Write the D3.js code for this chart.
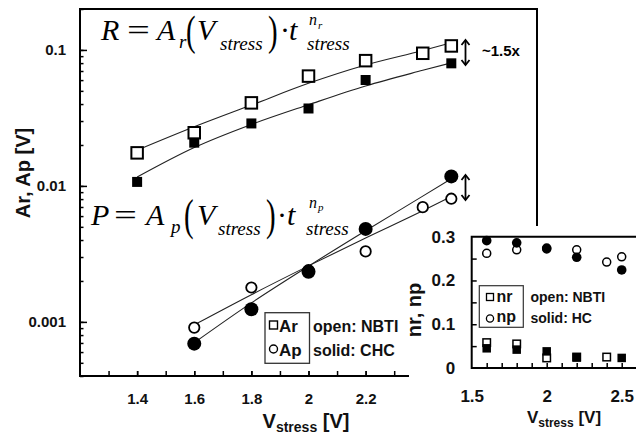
<!DOCTYPE html>
<html><head><meta charset="utf-8">
<script src="https://cdn.jsdelivr.net/npm/d3@7"></script>
<style>
body{margin:0;background:#fff}
svg{display:block}
text{font-family:"Liberation Sans",Arial,sans-serif}
.serif{font-family:"Liberation Serif","Times New Roman",serif}
</style>
</head><body><svg id="c" width="636" height="435"></svg>
<script>
// ---------- data (main chart) ----------
const mainXTicks = [1.4, 1.6, 1.8, 2.0, 2.2];
const mainYMajor = [0.001, 0.01, 0.1];
const arNbtiV = [1.4, 1.6, 1.8, 2.0, 2.2, 2.4, 2.5];
const arNbti  = [0.0175, 0.0246, 0.0408, 0.0642, 0.0834, 0.0945, 0.107];
const arChcV  = [1.4, 1.6, 1.8, 2.0, 2.2, 2.5];
const arChc   = [0.0107, 0.0208, 0.0288, 0.0371, 0.0601, 0.0797];
const arNbtiFitV = [1.4, 1.6, 1.8, 2.0, 2.2, 2.4, 2.5];
const arNbtiFit  = [0.0183, 0.0272, 0.0393, 0.0568, 0.0775, 0.0991, 0.113];
const arChcFitV  = [1.4, 1.6, 1.8, 2.0, 2.2, 2.4, 2.5];
const arChcFit   = [0.01161, 0.01914, 0.02831, 0.03954, 0.05433, 0.07079, 0.08035];
const apNbtiV = [1.6, 1.8, 2.0, 2.2, 2.4, 2.5];
const apNbti  = [0.000908, 0.00179, 0.00240, 0.00330, 0.00698, 0.00805];
const apChcV  = [1.6, 1.8, 2.0, 2.2, 2.5];
const apChc   = [0.000692, 0.00124, 0.00234, 0.00483, 0.01175];
const apNbtiFitV = [1.6, 1.8, 2.0, 2.2, 2.4, 2.5];
const apNbtiFit  = [0.000951, 0.001585, 0.002582, 0.00414, 0.00656, 0.00837];
const apChcFitV  = [1.6, 1.8, 2.0, 2.2, 2.4, 2.5];
const apChcFit   = [0.000703, 0.00138, 0.00257, 0.00468, 0.00841, 0.0113];
// ---------- data (inset) ----------
const insetXTicks = [1.5, 2.0, 2.5];
const insetYTicks = [0, 0.1, 0.2, 0.3];
const nrNbtiV = [1.6, 1.8, 2.0, 2.2, 2.4];
const nrNbti  = [0.058, 0.055, 0.023, 0.025, 0.025];
const nrHcV   = [1.6, 1.8, 2.0, 2.2, 2.5];
const nrHc    = [0.045, 0.042, 0.038, 0.024, 0.023];
const npNbtiV = [1.6, 1.8, 2.0, 2.2, 2.4, 2.5];
const npNbti  = [0.262, 0.270, 0.272, 0.270, 0.242, 0.254];
const npHcV   = [1.6, 1.8, 2.0, 2.2, 2.5];
const npHc    = [0.291, 0.286, 0.274, 0.253, 0.224];

const zip = (a, b) => a.map((v, i) => [v, b[i]]);
const svg = d3.select("#c");

// ---------- main chart ----------
const x = d3.scaleLinear([1.2, 2.8], [80, 537]);
const y = d3.scaleLog([0.0004, 0.2], [376, 9]);

const styleAxis = g => {
  g.select(".domain").remove();
  g.selectAll(".tick line").attr("stroke", "#000").attr("stroke-width", 1.5);
  g.selectAll(".tick text").attr("fill", "#111").attr("font-weight", "bold");
};

const minorX = d3.range(13, 28).map(d => d / 10);
svg.append("g").attr("transform", "translate(0,376)")
  .call(d3.axisBottom(x).tickValues(minorX).tickSize(-5).tickFormat(""))
  .call(styleAxis);
svg.append("g").attr("transform", "translate(0,376)")
  .call(d3.axisBottom(x).tickValues(mainXTicks).tickSize(-5).tickPadding(17).tickFormat(d3.format("~g")))
  .call(styleAxis)
  .call(g => g.selectAll(".tick text").attr("font-size", 15));

const minorY = [];
[-4, -3, -2, -1].forEach(e => d3.range(1, 10).forEach(k => {
  const v = +(k * Math.pow(10, e)).toPrecision(3);
  if (v >= 0.0004 && v <= 0.2) minorY.push(v);
}));
svg.append("g").attr("transform", "translate(80,0)")
  .call(d3.axisLeft(y).tickValues(minorY).tickSize(-3.5).tickFormat(""))
  .call(styleAxis);
svg.append("g").attr("transform", "translate(80,0)")
  .call(d3.axisLeft(y).tickValues(mainYMajor).tickSize(-7).tickPadding(14).tickFormat(d3.format("~g")))
  .call(styleAxis)
  .call(g => g.selectAll(".tick text").attr("font-size", 15));

svg.append("rect").attr("x", 80).attr("y", 9).attr("width", 457).attr("height", 367)
  .attr("fill", "none").attr("stroke", "#000").attr("stroke-width", 2);

// fit lines
const line = d3.line().x(d => x(d[0])).y(d => y(d[1])).curve(d3.curveMonotoneX);
[[arNbtiFitV, arNbtiFit], [arChcFitV, arChcFit], [apNbtiFitV, apNbtiFit], [apChcFitV, apChcFit]]
  .forEach(([v, a]) => svg.append("path").datum(zip(v, a)).attr("d", line)
    .attr("fill", "none").attr("stroke", "#222").attr("stroke-width", 1.1));

// markers
const sq = (g, data, sx, sy, s, filled, sw) => g.selectAll(null).data(data).join("rect")
  .attr("x", d => sx(d[0]) - s / 2).attr("y", d => sy(d[1]) - s / 2)
  .attr("width", s).attr("height", s)
  .attr("fill", filled ? "#000" : "#fff").attr("stroke", "#000").attr("stroke-width", filled ? 0 : sw);
const ci = (g, data, sx, sy, r, filled, sw) => g.selectAll(null).data(data).join("circle")
  .attr("cx", d => sx(d[0])).attr("cy", d => sy(d[1])).attr("r", r)
  .attr("fill", filled ? "#000" : "#fff").attr("stroke", "#000").attr("stroke-width", filled ? 0 : sw);

const gm = svg.append("g");
sq(gm, zip(arNbtiV, arNbti), x, y, 11.5, false, 2);
sq(gm, zip(arChcV, arChc), x, y, 10, true);
ci(gm, zip(apNbtiV, apNbti), x, y, 5.2, false, 1.8);
ci(gm, zip(apChcV, apChc), x, y, 7, true);

// formulas: [text, x, y, size, italic, scaleX, scaleY]
function formula(parts) {
  const g = svg.append("g").attr("class", "formula");
  parts.forEach(p => g.append("text").attr("class", "serif")
    .attr("transform", `translate(${p[1]},${p[2]}) scale(${p[5] || 1},${p[6] || 1})`)
    .attr("font-size", p[3]).attr("font-style", p[4] ? "italic" : "normal")
    .attr("fill", "#000").text(p[0]));
}
formula([
  ["R", 101, 40, 30, 1], ["=", 127, 40, 30, 0, 1.35, 1], ["A", 157, 40, 30, 1], ["r", 179, 48, 19, 1],
  ["(", 186, 45, 34, 0, 0.85, 1.25], ["V", 197, 40, 30, 1], ["stress", 220, 50, 19, 1],
  [")", 268, 45, 34, 0, 0.85, 1.25], ["·", 280, 40, 30, 0], ["t", 289, 40, 30, 1],
  ["n", 309, 25, 16, 1], ["r", 318, 29, 11, 1], ["stress", 307, 50, 19, 1]
]);
formula([
  ["P", 91, 225, 30, 1], ["=", 114, 225, 30, 0, 1.35, 1], ["A", 146, 225, 30, 1], ["p", 171, 233, 19, 1],
  ["(", 184, 230, 34, 0, 0.85, 1.3], ["V", 197, 225, 30, 1], ["stress", 218, 235, 19, 1],
  [")", 266, 230, 34, 0, 0.85, 1.3], ["·", 277, 225, 30, 0], ["t", 287, 225, 30, 1],
  ["n", 309, 208, 16, 1], ["p", 318, 211, 11, 1], ["stress", 306, 235, 19, 1]
]);

// double arrows and label
function dblArrow(xc, y1, y2) {
  const g = svg.append("g").attr("fill", "none").attr("stroke", "#000").attr("stroke-width", 1.8);
  g.append("line").attr("x1", xc).attr("x2", xc).attr("y1", y1).attr("y2", y2);
  g.append("path").attr("d", `M${xc - 4},${y1 + 5}L${xc},${y1}L${xc + 4},${y1 + 5}`);
  g.append("path").attr("d", `M${xc - 4},${y2 - 5}L${xc},${y2}L${xc + 4},${y2 - 5}`);
}
dblArrow(465.5, 40, 65);
dblArrow(465.5, 175, 200);
svg.append("text").attr("x", 482).attr("y", 56).attr("font-size", 15).attr("font-weight", "bold").text("~1.5x");

// main legend
svg.append("rect").attr("x", 265).attr("y", 312.7).attr("width", 44.5).attr("height", 50.6)
  .attr("fill", "none").attr("stroke", "#333").attr("stroke-width", 1.3);
svg.append("rect").attr("x", 269.5).attr("y", 321).attr("width", 8).attr("height", 8)
  .attr("fill", "#fff").attr("stroke", "#000").attr("stroke-width", 1.4);
svg.append("circle").attr("cx", 273.5).attr("cy", 349).attr("r", 4)
  .attr("fill", "#fff").attr("stroke", "#000").attr("stroke-width", 1.4);
const lg = (t, xx, yy, fs) => svg.append("text").attr("x", xx).attr("y", yy).attr("font-size", fs)
  .attr("font-weight", "bold").attr("fill", "#111").text(t);
lg("Ar", 279, 331.5, 17); lg("Ap", 279, 356, 17);
lg("open: NBTI", 313, 331.5, 16); lg("solid: CHC", 313, 356, 16);

// axis titles
svg.append("text").attr("transform", "translate(30,173) rotate(-90)").attr("text-anchor", "middle")
  .attr("font-size", 20).attr("font-weight", "bold").attr("fill", "#111").text("Ar, Ap [V]");
const xt = svg.append("text").attr("x", 306).attr("y", 428).attr("text-anchor", "middle")
  .attr("font-weight", "bold").attr("fill", "#111");
xt.append("tspan").attr("font-size", 20).text("V");
xt.append("tspan").attr("font-size", 14).attr("dy", 4).text("stress");
xt.append("tspan").attr("font-size", 20).attr("dy", -4).text(" [V]");

// ---------- inset ----------
svg.append("rect").attr("x", 409).attr("y", 226).attr("width", 227).attr("height", 209).attr("fill", "#fff");
const xi = d3.scaleLinear([1.5, 2.6], [471.7, 636.7]);
const yi = d3.scaleLinear([0, 0.3], [368, 236.7]);
svg.append("g").attr("transform", "translate(0,368)")
  .call(d3.axisBottom(xi).tickValues(d3.range(16, 26).map(d => d / 10)).tickSize(-5).tickFormat(""))
  .call(styleAxis);
svg.append("g").attr("transform", "translate(0,368)")
  .call(d3.axisBottom(xi).tickValues(insetXTicks).tickSize(0).tickPadding(22).tickFormat(d3.format("~g")))
  .call(styleAxis).call(g => g.selectAll(".tick text").attr("font-size", 17));
svg.append("g").attr("transform", "translate(471.7,0)")
  .call(d3.axisLeft(yi).tickValues(d3.range(1, 6).map(d => d * 0.05)).tickSize(-5).tickFormat(""))
  .call(styleAxis);
svg.append("g").attr("transform", "translate(471.7,0)")
  .call(d3.axisLeft(yi).tickValues(insetYTicks).tickSize(0).tickPadding(16.5).tickFormat(d3.format("~g")))
  .call(styleAxis).call(g => g.selectAll(".tick text").attr("font-size", 17));
svg.append("path").attr("d", "M636,236.7H471.7V368H636").attr("fill", "none")
  .attr("stroke", "#000").attr("stroke-width", 2);

const gi = svg.append("g");
ci(gi, zip(npNbtiV, npNbti), xi, yi, 4, false, 1.5);
ci(gi, zip(npHcV, npHc), xi, yi, 4.8, true);
sq(gi, zip(nrNbtiV, nrNbti), xi, yi, 7.5, false, 1.5);
sq(gi, zip(nrHcV, nrHc), xi, yi, 8.5, true);

// inset legend
svg.append("rect").attr("x", 479.3).attr("y", 285.7).attr("width", 44).attr("height", 41.6)
  .attr("fill", "none").attr("stroke", "#333").attr("stroke-width", 1.2);
svg.append("rect").attr("x", 486.5).attr("y", 293.5).attr("width", 7).attr("height", 7)
  .attr("fill", "#fff").attr("stroke", "#000").attr("stroke-width", 1.3);
svg.append("circle").attr("cx", 490).attr("cy", 318.5).attr("r", 3.6)
  .attr("fill", "#fff").attr("stroke", "#000").attr("stroke-width", 1.3);
lg("nr", 496.5, 301.5, 16); lg("np", 496.5, 321.5, 16);
lg("open: NBTI", 530.5, 301.5, 14); lg("solid: HC", 530.5, 323, 14);

svg.append("text").attr("transform", "translate(421,310) rotate(-90)").attr("text-anchor", "middle")
  .attr("font-size", 20).attr("font-weight", "bold").attr("fill", "#111").text("nr, np");
const xt2 = svg.append("text").attr("x", 564).attr("y", 423).attr("text-anchor", "middle")
  .attr("font-weight", "bold").attr("fill", "#111");
xt2.append("tspan").attr("font-size", 17).text("V");
xt2.append("tspan").attr("font-size", 12).attr("dy", 3.5).text("stress");
xt2.append("tspan").attr("font-size", 17).attr("dy", -3.5).text(" [V]");
</script>
</body></html>
